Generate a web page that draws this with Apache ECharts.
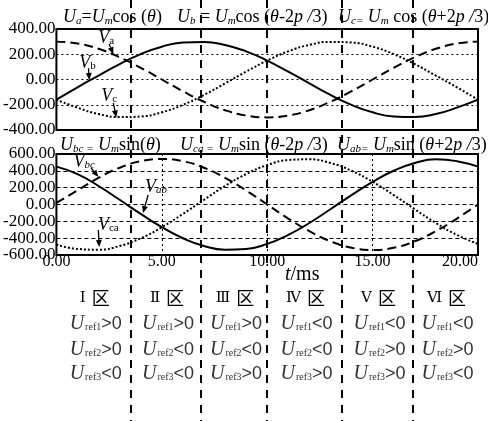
<!DOCTYPE html>
<html>
<head>
<meta charset="utf-8">
<script src="https://cdn.jsdelivr.net/npm/echarts@6/dist/echarts.min.js"></script>
<style>
  html, body { margin: 0; padding: 0; background: #fff; }
  #chart { width: 488px; height: 421px; }
</style>
</head>
<body>
<div id="chart"></div>
<script>
// time axis samples (ms)
const tMs = [0, 1, 2, 3, 4, 5, 6, 7, 8, 9, 10, 11, 12, 13, 14, 15, 16, 17, 18, 19, 20];

// phase voltages (V)
const va = [300, 285, 243, 176, 93, 0, -93, -176, -243, -285, -300, -285, -243, -176, -93, 0, 93, 176, 243, 285, 300];
const vb = [-160, -62, 31, 122, 201, 260, 293, 298, 274, 223, 150, 62, -31, -122, -201, -260, -293, -298, -274, -223, -160];
const vc = [-160, -223, -274, -298, -293, -260, -201, -122, -31, 62, 150, 223, 274, 298, 293, 260, 201, 122, 31, -62, -160];

// line voltages (V)
const vbc = [20, 167, 317, 437, 514, 540, 514, 437, 317, 167, 0, -167, -317, -437, -514, -540, -514, -437, -317, -167, 0];
const vab = [450, 361, 220, 56, -112, -270, -401, -493, -537, -528, -468, -361, -220, -56, 112, 270, 401, 493, 537, 515, 450];
const vca = [-475, -528, -537, -493, -401, -270, -112, 56, 220, 361, 468, 528, 537, 493, 401, 270, 112, -56, -220, -361, -468];

// axis ticks
const phaseTicks = { min: -400, max: 400, step: 200 };
const lineTicks = { min: -600, max: 600, step: 200 };
const timeTicks = { min: 0, max: 20, step: 5 };

// sector boundaries (ms)
const sectorEdgesMs = [3.55, 6.85, 10.0, 13.55, 16.9];

// sector table
const zoneNames = ['Ⅰ', 'Ⅱ', 'Ⅲ', 'Ⅳ', 'Ⅴ', 'Ⅵ'];
const uref1Sign = ['>', '>', '>', '<', '<', '<'];
const uref2Sign = ['>', '<', '<', '<', '>', '>'];
const uref3Sign = ['<', '<', '>', '>', '>', '<'];

const SERIF = "'Liberation Serif', 'Times New Roman', serif";
const pairs = (ys) => tMs.map((t, i) => [t, ys[i]]);

const chart = echarts.init(document.getElementById('chart'), null, { renderer: 'canvas', width: 488, height: 421 });

const gridBox = { show: true, borderColor: '#000', borderWidth: 2, backgroundColor: 'transparent' };
const valueLabel = (size, margin) => ({
  formatter: (v) => v.toFixed(2), fontFamily: SERIF, fontSize: size, color: '#000', margin: margin
});

const option = {
  animation: false,
  backgroundColor: '#fff',
  grid: [
    Object.assign({ left: 55, top: 29, width: 423, height: 101 }, gridBox),
    Object.assign({ left: 55, top: 154, width: 423, height: 101 }, gridBox)
  ],
  xAxis: [
    { gridIndex: 0, type: 'value', min: timeTicks.min, max: timeTicks.max, interval: timeTicks.step,
      axisLine: { show: false }, axisTick: { show: false }, axisLabel: { show: false }, splitLine: { show: false } },
    { gridIndex: 1, type: 'value', min: timeTicks.min, max: timeTicks.max, interval: timeTicks.step,
      axisLine: { show: false }, axisTick: { show: false },
      axisLabel: Object.assign(valueLabel(16, -1), { alignMaxLabel: 'right' }),
      splitLine: { show: true, lineStyle: { color: '#000', width: 1, type: [2, 3] } } }
  ],
  yAxis: [
    { gridIndex: 0, type: 'value', min: phaseTicks.min, max: phaseTicks.max, interval: phaseTicks.step,
      axisLine: { show: false }, axisTick: { show: false }, axisLabel: valueLabel(17, 1),
      splitLine: { show: true, lineStyle: { color: '#000', width: 1, type: [2, 3] } } },
    { gridIndex: 1, type: 'value', min: lineTicks.min, max: lineTicks.max, interval: lineTicks.step,
      axisLine: { show: false }, axisTick: { show: false }, axisLabel: valueLabel(17, 1),
      splitLine: { show: true, lineStyle: { color: '#000', width: 1, type: [4, 3] } } }
  ],
  series: [
    { name: 'Va', type: 'line', xAxisIndex: 0, yAxisIndex: 0, data: pairs(va), smooth: true, showSymbol: false,
      lineStyle: { color: '#000', width: 2, type: [9, 5] } },
    { name: 'Vb', type: 'line', xAxisIndex: 0, yAxisIndex: 0, data: pairs(vb), smooth: true, showSymbol: false,
      lineStyle: { color: '#000', width: 2, type: 'solid' } },
    { name: 'Vc', type: 'line', xAxisIndex: 0, yAxisIndex: 0, data: pairs(vc), smooth: true, showSymbol: false,
      lineStyle: { color: '#000', width: 2, type: [2, 2] } },
    { name: 'Vbc', type: 'line', xAxisIndex: 1, yAxisIndex: 1, data: pairs(vbc), smooth: true, showSymbol: false,
      lineStyle: { color: '#000', width: 2, type: [9, 5] } },
    { name: 'Vab', type: 'line', xAxisIndex: 1, yAxisIndex: 1, data: pairs(vab), smooth: true, showSymbol: false,
      lineStyle: { color: '#000', width: 2, type: 'solid' } },
    { name: 'Vca', type: 'line', xAxisIndex: 1, yAxisIndex: 1, data: pairs(vca), smooth: true, showSymbol: false,
      lineStyle: { color: '#000', width: 2, type: [2, 2] } }
  ]
};
chart.setOption(option);

// ---------- overlays: formulas, curve tags, sector lines, sector table ----------
const richFormula = {
  U: { fontFamily: SERIF, fontStyle: 'italic', fontSize: 18, fill: '#000' },
  s: { fontFamily: SERIF, fontStyle: 'italic', fontSize: 11, fill: '#000', padding: [8, 0, 0, 0] },
  n: { fontFamily: SERIF, fontSize: 18, fill: '#000' },
  i: { fontFamily: SERIF, fontStyle: 'italic', fontSize: 18, fill: '#000' }
};
const formulas = [
  { x: 63, y: 17, text: '{U|U}{s|a}{n|=}{U|U}{s|m}{n|cos (}{i|θ}{n|)}' },
  { x: 177, y: 17, text: '{U|U}{s|b}{n| = }{U|U}{s|m}{n|cos (}{i|θ}{n|-2}{i|p /}{n|3)}' },
  { x: 338, y: 17, text: '{U|U}{s|c=}{n| }{U|U}{s|m}{n| cos (}{i|θ}{n|+2}{i|p /}{n|3)}' },
  { x: 60, y: 145, text: '{U|U}{s|bc =}{n| }{U|U}{s|m}{n|sin(}{i|θ}{n|)}' },
  { x: 180, y: 145, text: '{U|U}{s|ca =}{n| }{U|U}{s|m}{n|sin (}{i|θ}{n|-2}{i|p /}{n|3)}' },
  { x: 337, y: 145, text: '{U|U}{s|ab=}{n| }{U|U}{s|m}{n|sin (}{i|θ}{n|+2}{i|p /}{n|3)}' }
];

// curve tags: label point, arrow start and arrow tip in data coordinates
const curveTags = [
  { grid: 0, main: 'V', sub: 'a', subItalic: false, at: [2.36, 329], from: [2.5, 281], to: [2.7, 202] },
  { grid: 0, main: 'V', sub: 'b', subItalic: false, at: [1.47, 131], from: [1.52, 90], to: [1.56, -4] },
  { grid: 0, main: 'V', sub: 'c', subItalic: false, at: [2.5, -131], from: [2.7, -186], to: [2.84, -300] },
  { grid: 1, main: 'V', sub: 'bc', subItalic: true, at: [1.32, 505], from: [1.65, 434], to: [1.99, 327] },
  { grid: 1, main: 'V', sub: 'ab', subItalic: true, at: [4.73, 208], from: [4.35, 113], to: [4.11, -101] },
  { grid: 1, main: 'V', sub: 'ca', subItalic: false, at: [2.46, -244], from: [1.99, -303], to: [2.03, -505] }
];

function buildOverlay() {
  const g = [];
  const H = 421;

  formulas.forEach((f) => {
    g.push({ type: 'text', x: f.x, y: f.y, z: 20,
      style: { text: f.text, rich: richFormula, align: 'left', verticalAlign: 'middle' } });
  });

  // time axis title
  g.push({ type: 'text', x: 285, y: 275, z: 20,
    style: { text: '{i|t}{n|/ms}', align: 'left', verticalAlign: 'middle',
      rich: { i: { fontFamily: SERIF, fontStyle: 'italic', fontSize: 20, fill: '#000' },
              n: { fontFamily: SERIF, fontSize: 20, fill: '#000' } } } });

  // curve tags with arrows
  curveTags.forEach((c) => {
    const px = (p) => chart.convertToPixel({ gridIndex: c.grid }, p);
    const a = px(c.at), p0 = px(c.from), p1 = px(c.to);
    g.push({ type: 'text', x: a[0], y: a[1], z: 20,
      style: { text: '{V|' + c.main + '}{s|' + c.sub + '}', align: 'center', verticalAlign: 'middle',
        rich: { V: { fontFamily: SERIF, fontStyle: 'italic', fontSize: 18, fill: '#000' },
                s: { fontFamily: SERIF, fontStyle: c.subItalic ? 'italic' : 'normal', fontSize: 11, fill: '#000', padding: [7, 0, 0, 0] } } } });
    const dx = p1[0] - p0[0], dy = p1[1] - p0[1];
    const len = Math.hypot(dx, dy) || 1;
    const ux = dx / len, uy = dy / len;
    const L = 7, Wd = 3;
    const bx = p1[0] - ux * L, by = p1[1] - uy * L;
    g.push({ type: 'line', z: 20, shape: { x1: p0[0], y1: p0[1], x2: bx, y2: by },
      style: { stroke: '#000', lineWidth: 1.3 } });
    g.push({ type: 'polygon', z: 20,
      shape: { points: [[p1[0], p1[1]], [bx - uy * Wd, by + ux * Wd], [bx + uy * Wd, by - ux * Wd]] },
      style: { fill: '#000' } });
  });

  // sector boundaries spanning the whole figure
  const edgesPx = sectorEdgesMs.map((t) => Math.round(chart.convertToPixel({ xAxisIndex: 1 }, t)));
  edgesPx.forEach((x) => {
    g.push({ type: 'line', z: 30, shape: { x1: x, y1: 0, x2: x, y2: H },
      style: { stroke: '#000', lineWidth: 2, lineDash: [8, 7] } });
  });

  // sector table
  const left = chart.convertToPixel({ xAxisIndex: 1 }, timeTicks.min);
  const right = chart.convertToPixel({ xAxisIndex: 1 }, timeTicks.max);
  const bounds = [left].concat(edgesPx, [right]);
  const richZone = {
    r: { fontFamily: "'DejaVu Serif', " + SERIF + ", 'Noto Sans CJK SC'", fontSize: 15, fill: '#000' },
    g: { fontFamily: SERIF, fontSize: 12, fill: '#000' },
    z: { fontFamily: "'Noto Sans CJK SC', sans-serif", fontSize: 18, fill: '#000' }
  };
  const richRef = {
    U: { fontFamily: SERIF, fontStyle: 'italic', fontSize: 20, fill: '#333' },
    r: { fontFamily: SERIF, fontSize: 10, fill: '#333', padding: [6, 0, 0, 1] },
    o: { fontFamily: "'Liberation Sans', Arial, sans-serif", fontSize: 18, fill: '#333' }
  };
  const rowY = [324, 350, 374];
  const signs = [uref1Sign, uref2Sign, uref3Sign];
  zoneNames.forEach((name, k) => {
    const cx = (bounds[k] + bounds[k + 1]) / 2 + 1;
    g.push({ type: 'text', x: cx, y: 298, z: 20,
      style: { text: '{r|' + name + '}{g|  }{z|区}', rich: richZone, align: 'center', verticalAlign: 'middle' } });
    signs.forEach((col, r) => {
      g.push({ type: 'text', x: cx + 1, y: rowY[r], z: 20,
        style: { text: '{U|U}{r|ref' + (r + 1) + '}{o|' + col[k] + '0}', rich: richRef, align: 'center', verticalAlign: 'middle' } });
    });
  });

  return g;
}

chart.setOption({ graphic: buildOverlay() });
</script>
</body>
</html>
